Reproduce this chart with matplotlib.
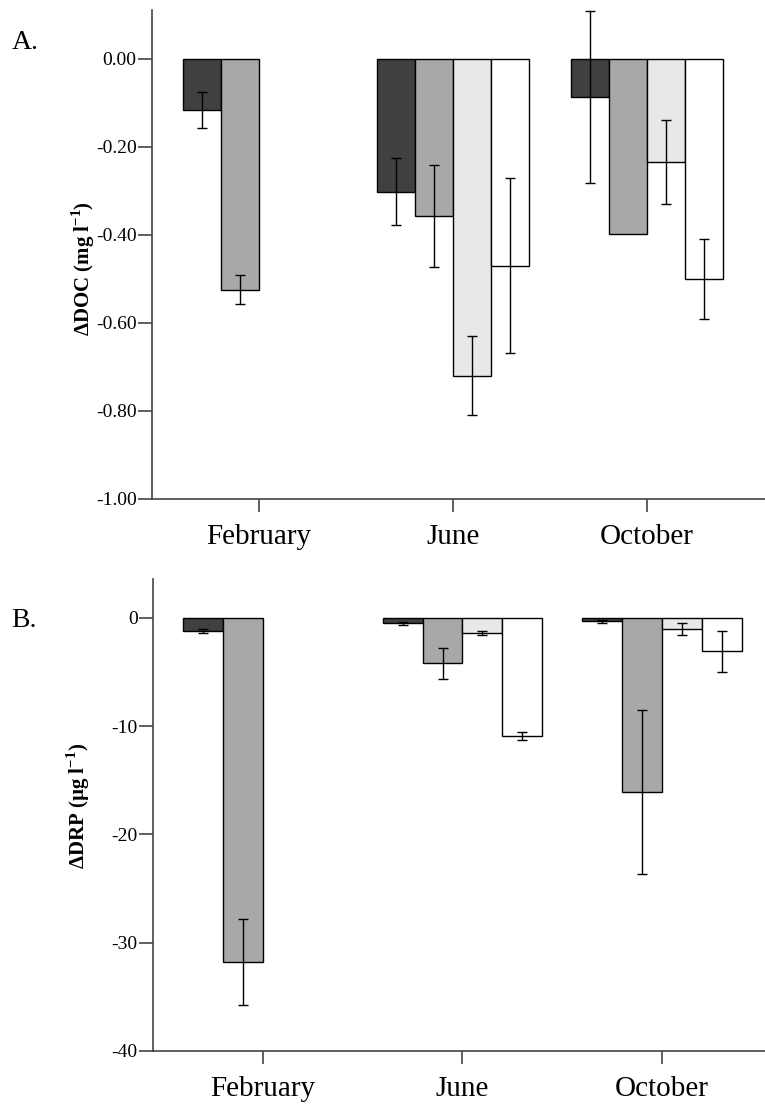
import numpy as np
import matplotlib.pyplot as plt

plt.rcParams['font.family'] = ['Liberation Serif', 'DejaVu Serif']
plt.rcParams['mathtext.fontset'] = 'custom'
plt.rcParams['mathtext.rm'] = 'Liberation Serif'
plt.rcParams['mathtext.bf'] = 'Liberation Serif:bold'
plt.rcParams['axes.unicode_minus'] = False

months = ['February', 'June', 'October']
fills = ['#404040', '#a8a8a8', '#e8e8e8', '#ffffff']

# panel A: change in DOC (mg l-1), four treatments per month (nan = not measured)
doc_mean = [
    [-0.116, -0.525, np.nan, np.nan],
    [-0.302, -0.357, -0.720, -0.470],
    [-0.086, -0.399, -0.235, -0.500],
]
doc_err = [
    [0.041, 0.033, np.nan, np.nan],
    [0.076, 0.116, 0.090, 0.199],
    [0.195, 0.0, 0.095, 0.090],
]

# panel B: change in DRP (ug l-1)
drp_mean = [
    [-1.2, -31.8, np.nan, np.nan],
    [-0.5, -4.2, -1.4, -10.9],
    [-0.3, -16.1, -1.0, -3.1],
]
drp_err = [
    [0.2, 3.95, np.nan, np.nan],
    [0.15, 1.4, 0.15, 0.4],
    [0.15, 7.55, 0.55, 1.9],
]


def draw(ax, means, errs, width):
    means = np.array(means)
    errs = np.array(errs)
    x = np.arange(len(months))
    for j in range(means.shape[1]):
        xs = x + (j - 1.5) * width
        ok = ~np.isnan(means[:, j])
        ax.bar(xs[ok], means[ok, j], width, color=fills[j], edgecolor='black',
               linewidth=1.0, zorder=2)
        show = ok & (errs[:, j] > 0)
        ax.errorbar(xs[show], means[show, j], yerr=errs[show, j], fmt='none',
                    ecolor='black', elinewidth=1.0, capsize=3.5, capthick=1.0,
                    zorder=3)
    ax.set_xticks(x)
    ax.set_xticklabels(months, fontsize=21)
    ax.spines['top'].set_visible(False)
    ax.spines['right'].set_visible(False)
    for s in ['left', 'bottom']:
        ax.spines[s].set_color('#444444')
        ax.spines[s].set_linewidth(1.2)
    ax.tick_params(axis='x', length=9, width=1.2, color='#444444', pad=9)
    ax.tick_params(axis='y', length=10, width=1.2, color='#444444', pad=1,
                   labelsize=14)


fig = plt.figure(figsize=(7.65, 11.12), dpi=100)

# A
ax1 = fig.add_axes([0.1987, 0.5513, 0.8013, 0.4397])
draw(ax1, doc_mean, doc_err, 0.196)
ax1.set_xlim(-0.552, 2.608)
ax1.set_ylim(-1.0, 0.111)
ax1.set_yticks([0, -0.2, -0.4, -0.6, -0.8, -1.0])
ax1.set_yticklabels(['0.00', '-0.20', '-0.40', '-0.60', '-0.80', '-1.00'])
ax1.set_ylabel('ΔDOC (mg l$^{\\mathbf{-1}}$)', fontsize=15, fontweight='bold')
ax1.yaxis.set_label_coords(-0.09, 0.472)
fig.text(0.015, 0.962, 'A.', fontsize=20, va='center')

# B
ax2 = fig.add_axes([0.2, 0.0549, 0.8, 0.4245])
draw(ax2, drp_mean, drp_err, 0.2)
ax2.set_xlim(-0.551, 2.516)
ax2.set_ylim(-40, 3.6)
ax2.set_yticks([0, -10, -20, -30, -40])
ax2.set_ylabel('ΔDRP (µg l$^{\\mathbf{-1}}$)', fontsize=15, fontweight='bold')
ax2.yaxis.set_label_coords(-0.1, 0.52)
fig.text(0.015, 0.442, 'B.', fontsize=20, va='center')

fig.savefig('out.png', dpi=100)
